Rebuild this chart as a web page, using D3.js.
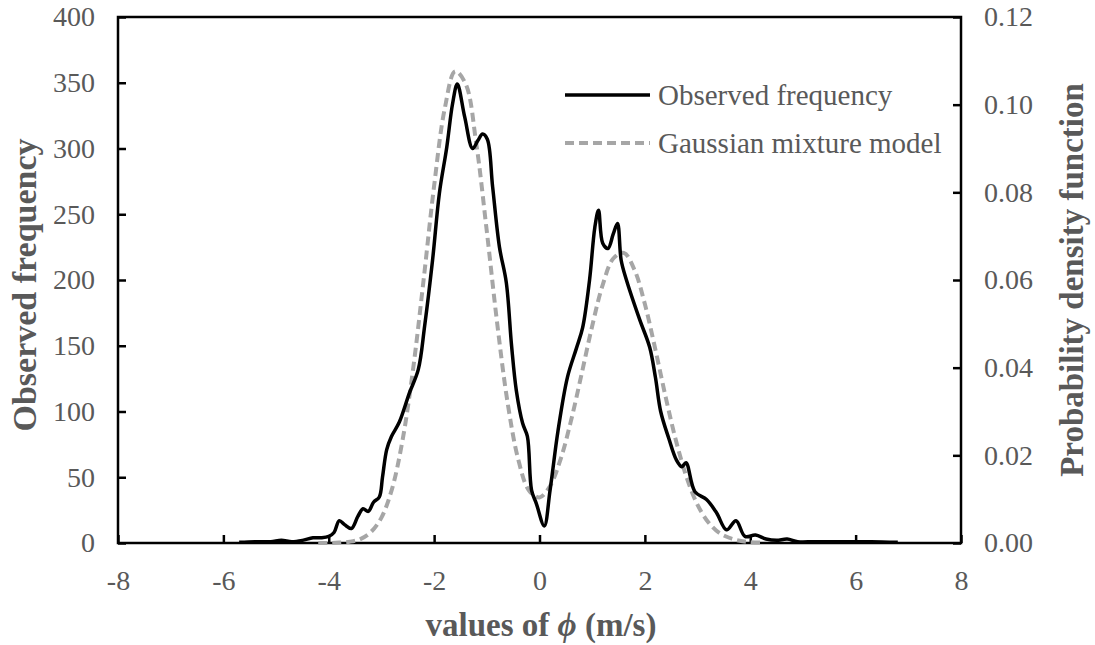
<!DOCTYPE html>
<html>
<head>
<meta charset="utf-8">
<script src="https://cdn.jsdelivr.net/npm/d3@7"></script>
<style>
  body { margin: 0; background: #fff; }
  text { font-family: "Liberation Serif", "Times New Roman", serif; }
</style>
</head>
<body>
<div id="chart"></div>
<script>
// observed frequency
var obsX = [-5.7, -5.4, -5.1, -4.9, -4.7, -4.5, -4.3, -4.15, -4.0, -3.9, -3.8, -3.7, -3.57, -3.45, -3.35, -3.25, -3.15, -3.04,
    -2.98, -2.9, -2.81, -2.66, -2.47, -2.3, -2.18, -2.03, -1.9, -1.76, -1.65, -1.56, -1.42, -1.27, -1.17, -1.08, -0.99,
    -0.89, -0.76, -0.63, -0.53, -0.44, -0.32, -0.23, -0.15, -0.06, 0.09, 0.2, 0.35, 0.53, 0.7, 0.82, 0.95, 1.05, 1.12,
    1.2, 1.3, 1.4, 1.48, 1.55, 1.65, 1.9, 2.09, 2.2, 2.3, 2.45, 2.6, 2.7, 2.78, 2.95, 3.17, 3.36, 3.55, 3.73, 3.9,
    4.1, 4.3, 4.5, 4.7, 4.9, 5.2, 5.5, 5.9, 6.3, 6.8];
var obsFreq = [0.5, 1, 1, 2, 1, 2, 4, 4, 5, 8, 17, 14, 11, 20, 26, 24, 31, 35,
    50, 71, 81, 92, 114, 132, 165, 215, 266, 301, 334, 349, 324, 300, 306, 311, 307,
    271, 225, 198, 150, 116, 91, 81, 40, 30, 13, 40, 85, 126, 148, 164, 200, 240, 253,
    228, 224, 235, 243, 215, 200, 170, 149, 126, 100, 80, 63, 58, 61, 39, 33, 23, 10, 17, 5,
    6, 3, 2, 3, 1, 1, 1, 1, 1, 0.5];

// gaussian mixture model pdf
var gmmX = [-4.2, -4.0, -3.8, -3.6, -3.4, -3.2, -3.0, -2.8, -2.6, -2.4, -2.2, -2.0, -1.8, -1.6, -1.4, -1.2, -1.0,
    -0.8, -0.6, -0.4, -0.2, 0.0, 0.2, 0.4, 0.6, 0.8, 1.0, 1.2, 1.4, 1.6, 1.8, 2.0, 2.2, 2.4, 2.6, 2.8, 3.0,
    3.2, 3.4, 3.6, 3.8, 4.0, 4.2];
var gmmPdf = [0.0000, 0.0000, 0.0001, 0.0003, 0.0009, 0.0025, 0.0058, 0.0123, 0.0234, 0.0396, 0.0600, 0.0815, 0.0990,
    0.1076, 0.1047, 0.0911, 0.0711, 0.0498, 0.0316, 0.0189, 0.0120, 0.0104, 0.0130, 0.0191, 0.0280, 0.0386, 0.0495,
    0.0589, 0.0649, 0.0662, 0.0624, 0.0545, 0.0441, 0.0330, 0.0229, 0.0147, 0.0087, 0.0048, 0.0024, 0.0012, 0.0005,
    0.0002, 0.0001];

var xTicks = [-8, -6, -4, -2, 0, 2, 4, 6, 8];
var yTicks = [0, 50, 100, 150, 200, 250, 300, 350, 400];
var y2Ticks = [0, 0.02, 0.04, 0.06, 0.08, 0.10, 0.12];

var W = 1095, H = 645;
var margins = { left: 118, right: 134, top: 17, bottom: 102 };
var width = W - margins.left - margins.right,
    height = H - margins.top - margins.bottom;
var grey = '#595959';

var svg = d3.select('#chart').append('svg')
    .attr('width', W)
    .attr('height', H);

var g = svg.append('g')
    .attr('transform', 'translate(' + margins.left + ',' + margins.top + ')');

var x = d3.scaleLinear().domain([-8, 8]).range([0, width]);
var y = d3.scaleLinear().domain([0, 400]).range([height, 0]);
var y2 = d3.scaleLinear().domain([0, 0.12]).range([height, 0]);

// axes, ticks pointing inward
var xAxis = g.append('g')
    .attr('transform', 'translate(0,' + height + ')')
    .call(d3.axisBottom(x).tickValues(xTicks).tickSize(-8).tickPadding(27)
        .tickFormat(function(d) { return String(d); }));

var yAxis = g.append('g')
    .call(d3.axisLeft(y).tickValues(yTicks).tickSize(-8).tickPadding(23)
        .tickFormat(function(d) { return String(d); }));

var y2Axis = g.append('g')
    .attr('transform', 'translate(' + width + ',0)')
    .call(d3.axisRight(y2).tickValues(y2Ticks).tickSize(-8).tickPadding(23)
        .tickFormat(d3.format('.2f')));

[xAxis, yAxis, y2Axis].forEach(function(a) {
    a.select('.domain').remove();
    a.selectAll('.tick line').attr('stroke', '#000').attr('stroke-width', 2.5);
    a.selectAll('.tick text')
        .attr('fill', grey)
        .style('font-size', '28px')
        .style('font-family', '"Liberation Serif", "Times New Roman", serif');
});

// frame
g.append('rect')
    .attr('x', 0).attr('y', 0)
    .attr('width', width).attr('height', height)
    .attr('fill', 'none')
    .attr('stroke', '#000')
    .attr('stroke-width', 2.5);

var gmmData = gmmX.map(function(v, i) { return [v, gmmPdf[i]]; });
var obsData = obsX.map(function(v, i) { return [v, obsFreq[i]]; });

g.append('path')
    .datum(gmmData)
    .attr('d', d3.line()
        .x(function(d) { return x(d[0]); })
        .y(function(d) { return y2(d[1]); })
        .curve(d3.curveCatmullRom))
    .attr('fill', 'none')
    .attr('stroke', '#a6a6a6')
    .attr('stroke-width', 4)
    .attr('stroke-dasharray', '9,5');

g.append('path')
    .datum(obsData)
    .attr('d', d3.line()
        .x(function(d) { return x(d[0]); })
        .y(function(d) { return y(d[1]); })
        .curve(d3.curveCatmullRom))
    .attr('fill', 'none')
    .attr('stroke', '#000')
    .attr('stroke-width', 3.5)
    .attr('stroke-linejoin', 'round');

// legend
var legend = svg.append('g');
var legendItems = [
    { label: 'Observed frequency', stroke: '#000', dash: null, w: 3.5, y: 95 },
    { label: 'Gaussian mixture model', stroke: '#a6a6a6', dash: '9,5', w: 4, y: 143 }
];
legendItems.forEach(function(it) {
    legend.append('line')
        .attr('x1', 565).attr('x2', 650)
        .attr('y1', it.y).attr('y2', it.y)
        .attr('stroke', it.stroke)
        .attr('stroke-width', it.w)
        .attr('stroke-dasharray', it.dash);
    legend.append('text')
        .attr('x', 658).attr('y', it.y)
        .attr('dy', '0.35em')
        .attr('fill', grey)
        .style('font-size', '29px')
        .text(it.label);
});

// axis titles
svg.append('text')
    .attr('transform', 'translate(36,285) rotate(-90)')
    .attr('text-anchor', 'middle')
    .attr('fill', grey)
    .style('font-size', '34px')
    .style('font-weight', 'bold')
    .text('Observed frequency');

svg.append('text')
    .attr('transform', 'translate(1083,280) rotate(-90)')
    .attr('text-anchor', 'middle')
    .attr('fill', grey)
    .style('font-size', '33px')
    .style('font-weight', 'bold')
    .text('Probability density function');

var xt = svg.append('text')
    .attr('x', 541).attr('y', 636)
    .attr('text-anchor', 'middle')
    .attr('fill', grey)
    .style('font-size', '33px')
    .style('font-weight', 'bold');
xt.append('tspan').text('values of  ');
xt.append('tspan').style('font-style', 'italic').text('ϕ');
xt.append('tspan').text(' (m/s)');
</script>
</body>
</html>
